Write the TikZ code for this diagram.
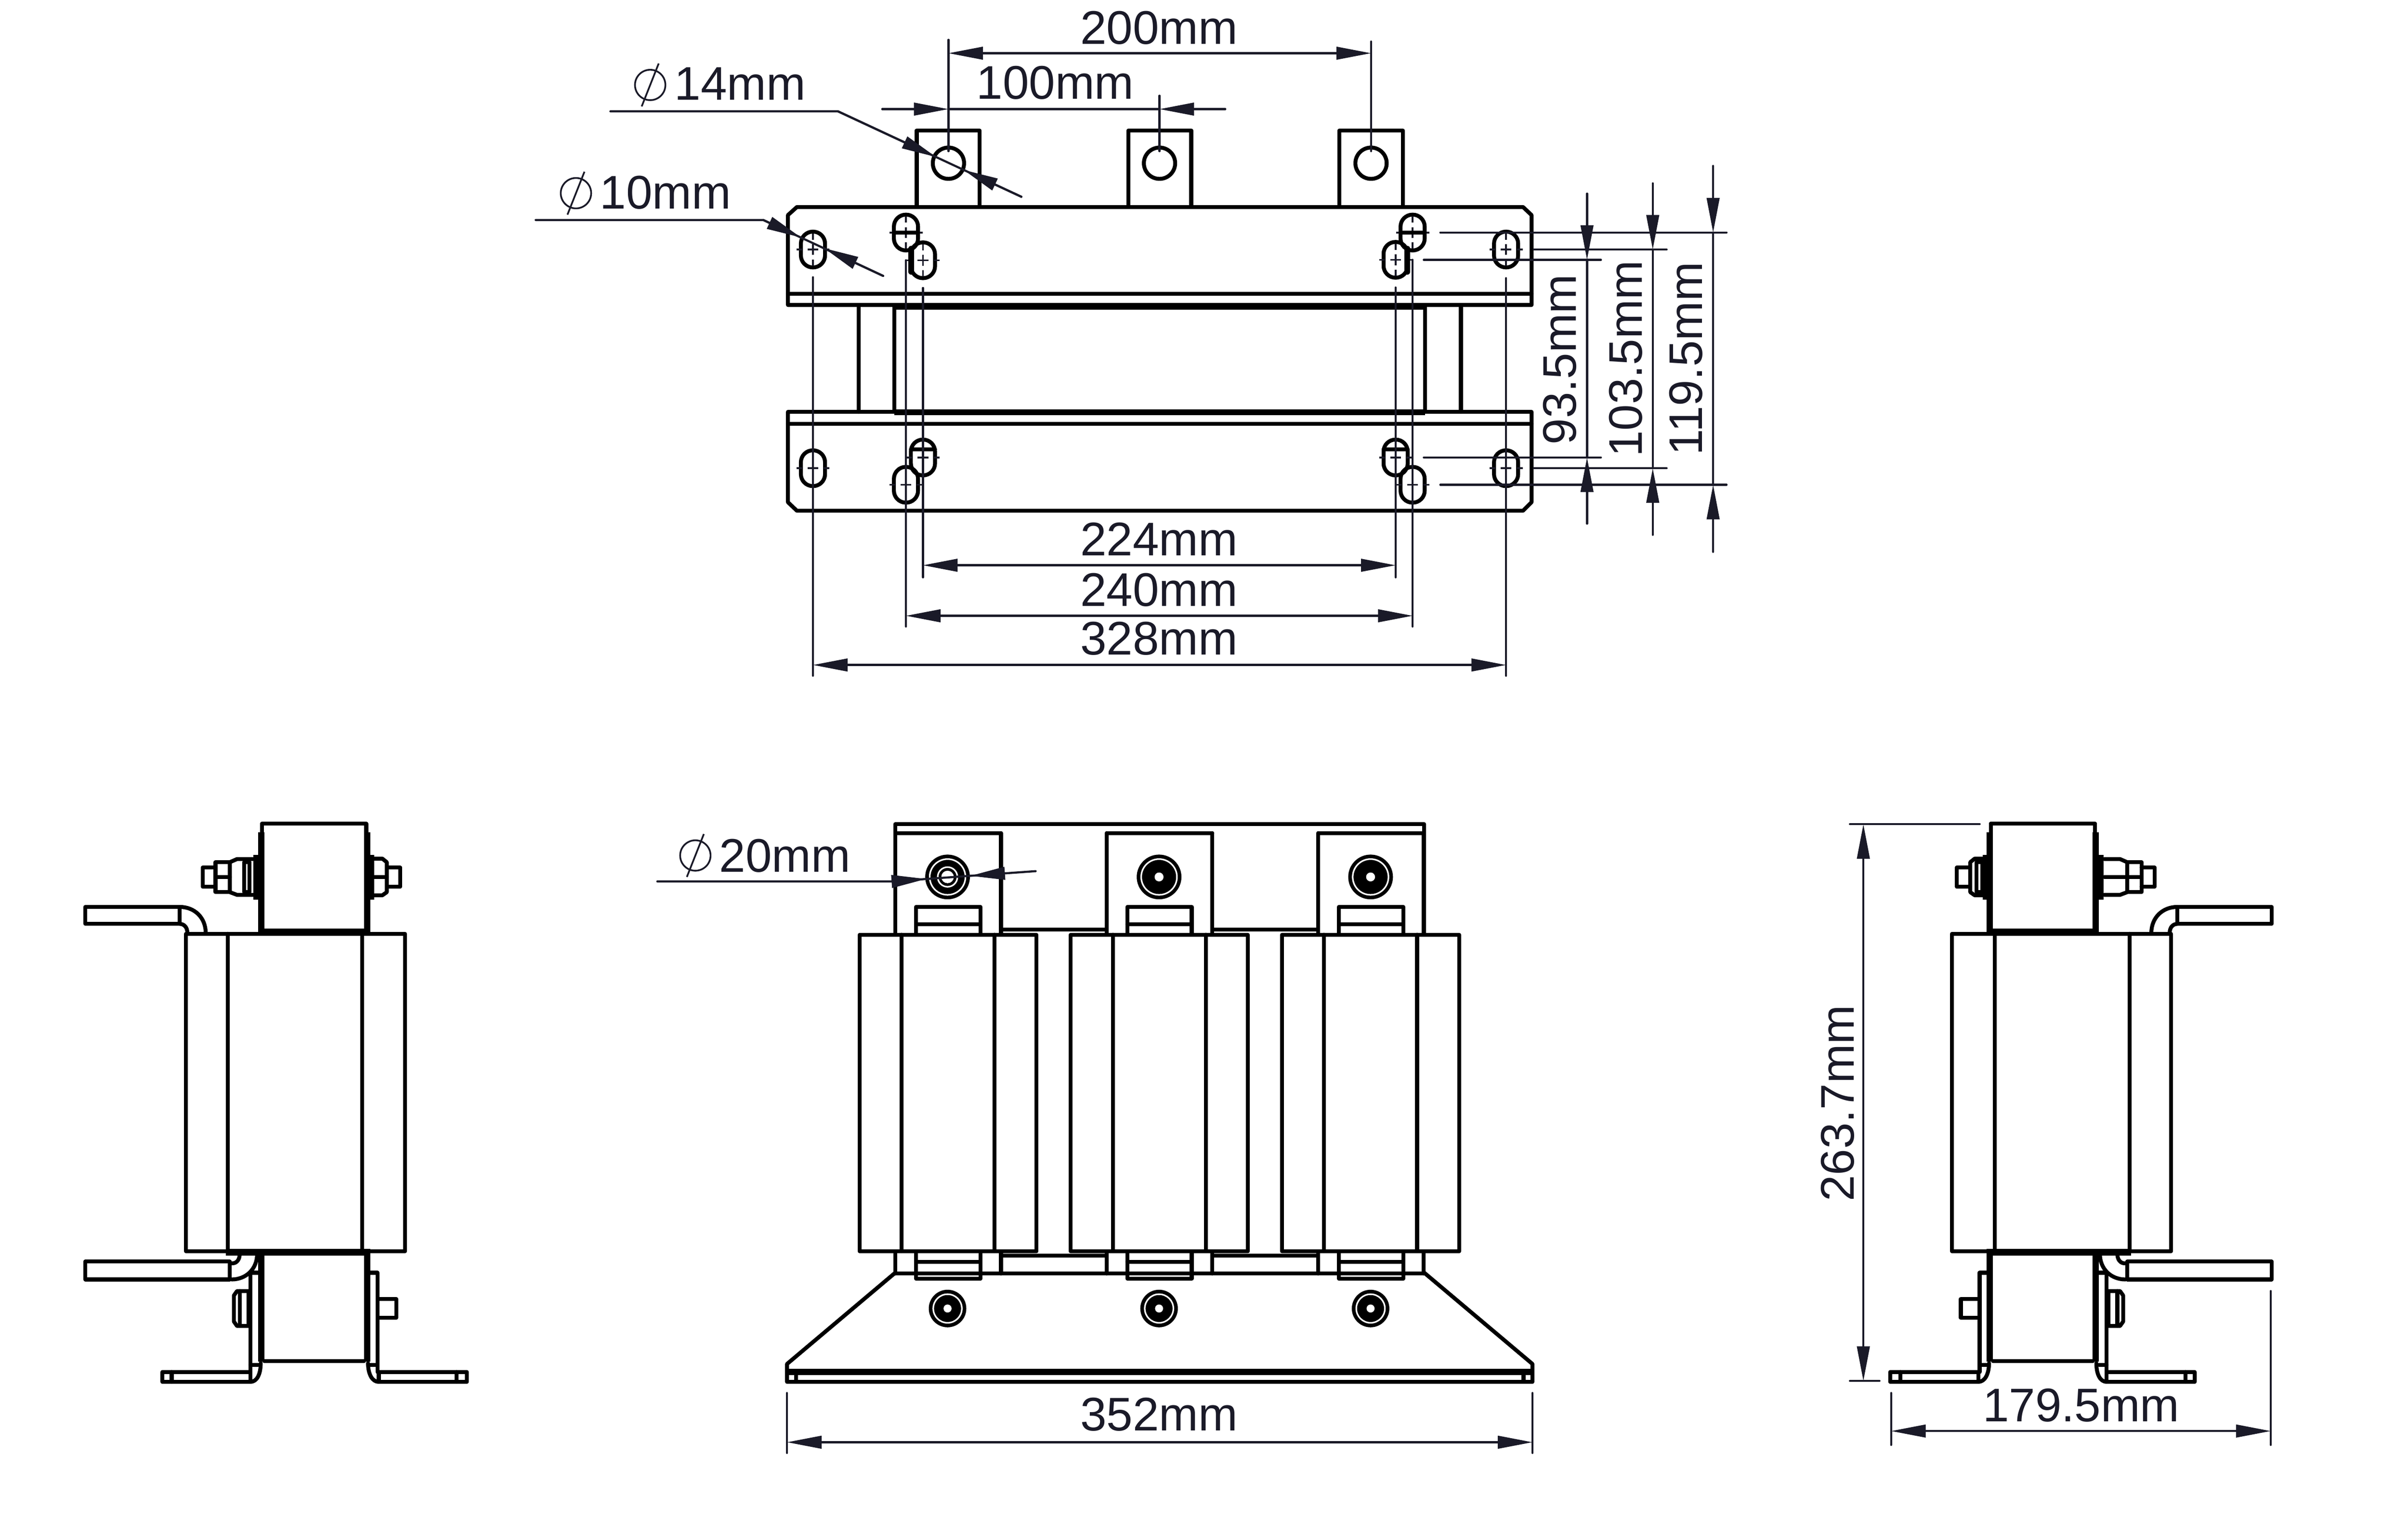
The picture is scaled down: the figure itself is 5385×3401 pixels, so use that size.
\documentclass[tikz,border=0pt]{standalone}
\usepackage{fontspec}
\setmainfont{Liberation Sans}
\usetikzlibrary{arrows.meta}
\definecolor{dimc}{HTML}{1A1A28}
\tikzset{
  main/.style={draw=black,line width=2.5pt,line join=round,line cap=round},
  heavy/.style={draw=black,line width=3.6pt,line cap=round},
  dimline/.style={draw=dimc,line width=1.35pt,line cap=round},
  cl/.style={draw=dimc,line width=1.1pt},
  tri/.tip={Triangle[length=22pt,width=8pt,color=dimc]},
  dimtext/.style={font=\fontsize{30}{30}\selectfont,inner sep=0pt,text=dimc},
}
\newcommand\slot[2]{%
  \draw[main,rounded corners=7.6pt] ({#1-27},{#2-40}) rectangle ({#1+27},{#2+40});
  \draw[cl] ({#1-37},#2)--({#1-24},#2) ({#1-12},#2)--({#1+12},#2) ({#1+24},#2)--({#1+37},#2)
     (#1,{#2-12})--(#1,{#2+12}) (#1,{#2-36})--(#1,{#2-22}) (#1,{#2+22})--(#1,{#2+36});
}
\newcommand\phisym[2]{% centre
  \draw[dimc,line width=1.1pt] (#1,#2) circle [radius=34];
  \draw[dimc,line width=1.1pt] ({#1+19},{#2-48})--({#1-19},{#2+48});
}
\newcommand\bigbolt[2]{%
  \fill[black] (#1,#2) circle [radius=50];
  \draw[white,line width=1pt] (#1,#2) circle [radius=40];
  \fill[white] (#1,#2) circle [radius=10];
}
\newcommand\lowbolt[2]{%
  \fill[black] (#1,#2) circle [radius=42];
  \draw[white,line width=1pt] (#1,#2) circle [radius=32];
  \fill[white] (#1,#2) circle [radius=9];
}
\newcommand\sidecommon{%
  % body
  \draw[main] (416,2088) rectangle (906,2798);
  \draw[main] (509,2088)--(509,2798) (810,2088)--(810,2798);
  % top box
  \draw[main] (586,1842)--(819,1842);
  \fill[black] (577,1861) rectangle (591,2088);
  \fill[black] (814,1861) rectangle (828,2088);
  \draw[main] (586,1842)--(586,1870) (819,1842)--(819,1870);
  \fill[black] (586,2076) rectangle (819,2088);
  \fill[black] (567,1912) rectangle (578,2012);
  \fill[black] (827,1912) rectangle (837,2012);
  % long bolt
  \draw[main] (565,1921)--(530,1921)--(514,1928)--(514,1995)--(530,2001)--(565,2001);
  \draw[main] (514,1928)--(482,1928)--(482,1995)--(514,1995);
  \draw[main] (482,1940)--(453,1940)--(453,1983)--(482,1983);
  % short bolt
  \draw[main] (835,1920)--(855,1920)--(865,1928)--(865,1995)--(855,2002)--(835,2002);
  \draw[main] (865,1940)--(895,1940)--(895,1983)--(865,1983);
  % upper arm
  \draw[main] (402,2028)--(191,2028)--(191,2066)--(402,2066)--cycle;
  \draw[main] (402,2028) .. controls (435,2028) and (460,2052) .. (460,2086);
  \draw[main] (402,2066) .. controls (412,2066) and (419,2074) .. (419,2086);
  % lower box
  \fill[black] (577,2800) rectangle (591,3045);
  \fill[black] (814,2800) rectangle (828,3045);
  \fill[black] (505,2793) rectangle (828,2808);
  \draw[main] (591,3044)--(814,3044);
  % lower arm
  \draw[main] (514,2821)--(191,2821)--(191,2861)--(514,2861)--cycle;
  \draw[main] (518,2861) .. controls (550,2861) and (575,2838) .. (575,2804);
  \draw[main] (519,2825) .. controls (530,2825) and (536,2816) .. (536,2804);
  % brackets
  \draw[main] (577,2846)--(560,2846)--(560,3068);
  \draw[main] (828,2846)--(844,2846)--(844,3068);
  \draw[main] (560,3052)--(577,3052) (828,3052)--(844,3052);
  % feet
  \draw[main] (560,3068)--(363,3068)--(363,3090)--(560,3090) .. controls (575,3090) and (583,3072) .. (583,3048);
  \draw[main] (384,3068)--(384,3090) (560,3068)--(560,3090);
  \draw[main] (847,3068)--(1044,3068)--(1044,3090)--(847,3090) .. controls (832,3090) and (823,3072) .. (823,3048);
  \draw[main] (1021,3068)--(1021,3090) (847,3068)--(847,3090);
  % lower nuts
  \draw[main] (556,2887)--(530,2887)--(523,2897)--(523,2955)--(530,2965)--(556,2965)--cycle;
  \draw[main] (536,2887)--(536,2965);
  \draw[main] (846,2905)--(886,2905)--(886,2947)--(846,2947);
}
\begin{document}
\begin{tikzpicture}[x=0.01cm,y=-0.01cm]
\useasboundingbox (0,0) rectangle (5385,3401);
\fill[white] (0,0) rectangle (5385,3401);
%% ---------- plan view ----------
\draw[main] (2050,463)--(2050,292)--(2191,292)--(2191,463);
\draw[main] (2523,463)--(2523,292)--(2664,292)--(2664,463);
\draw[main] (2995,463)--(2995,292)--(3137,292)--(3137,463);
\foreach \c in {2121,2593,3066} \draw[main] (\c,365) circle [radius=35];
\draw[main] (1782,463)--(3406,463)--(3425,481)--(3425,682)--(1762,682)--(1762,481)--cycle;
\draw[main] (1762,657)--(3425,657);
\draw[main] (1920,682)--(1920,921) (3267,682)--(3267,921);
\draw[main] (2000,682)--(2000,921) (3187,682)--(3187,921);
\fill[black] (2000,679) rectangle (3187,692);
\fill[black] (2000,915) rectangle (3187,928);
\draw[main] (1782,1142)--(3406,1142)--(3425,1123)--(3425,921)--(1762,921)--(1762,1123)--cycle;
\draw[main] (1762,948)--(3425,948);
\slot{1818}{558}\slot{2026}{520}\slot{2064}{582}
\slot{3121}{581}\slot{3159}{520}\slot{3368}{558}
\slot{2064}{1023}\slot{2026}{1084}\slot{1818}{1047}
\slot{3121}{1023}\slot{3159}{1084}\slot{3368}{1047}
\draw[main] (1999,520)--(2053,520) (3132,520)--(3186,520) (2037,1005)--(2091,1005) (3094,1005)--(3148,1005);
\draw[heavy] (2038,556)--(2038,608) (3147,556)--(3147,608);
%% extension lines
\draw[dimline] (2121,89)--(2121,338) (2593,214)--(2593,338) (3066,93)--(3066,338);
\draw[dimline] (1818,620)--(1818,1511) (2026,582)--(2026,1401) (2064,644)--(2064,1291);
\draw[dimline] (3121,643)--(3121,1291) (3159,581)--(3159,1401) (3368,622)--(3368,1511);
\draw[dimline] (3221,520)--(3861,520) (3430,558)--(3727,558) (3184,581)--(3580,581);
\draw[dimline] (3184,1023)--(3580,1023) (3430,1047)--(3727,1047) (3221,1084)--(3861,1084);
%% dimension lines
\draw[dimline,tri-tri] (2121,119)--(3066,119);
\node[dimtext] (d200) at (2592,62) {200mm};
\draw[dimline,-tri] (1973,244)--(2121,244);
\draw[dimline,-tri] (2740,244)--(2593,244);
\draw[dimline] (2121,244)--(2593,244);
\node[dimtext] (d100) at (2360,185) {100mm};
\draw[dimline,tri-tri] (2064,1264)--(3121,1264);
\node[dimtext] (d224) at (2592,1205) {224mm};
\draw[dimline,tri-tri] (2026,1377)--(3159,1377);
\node[dimtext] (d240) at (2592,1319) {240mm};
\draw[dimline,tri-tri] (1818,1487)--(3368,1487);
\node[dimtext] (d328) at (2592,1428) {328mm};
%% right-hand dimensions
\draw[dimline,-tri] (3549,433)--(3549,581);
\draw[dimline,-tri] (3549,1171)--(3549,1023);
\draw[dimline] (3549,581)--(3549,1023);
\node[dimtext,rotate=90] (d935) at (3488,804) {93.5mm};
\draw[dimline,-tri] (3696,410)--(3696,558);
\draw[dimline,-tri] (3696,1196)--(3696,1047);
\draw[dimline] (3696,558)--(3696,1047);
\node[dimtext,rotate=90] (d1035) at (3636,802) {103.5mm};
\draw[dimline,-tri] (3831,371)--(3831,520);
\draw[dimline,-tri] (3831,1234)--(3831,1084);
\draw[dimline] (3831,520)--(3831,1084);
\node[dimtext,rotate=90] (d1195) at (3770,802) {119.5mm};
%% diameters
\draw[dimline] (1365,249)--(1874,249)--(2284,440);
\draw[dimline,-tri] (1874,249)--(2093,351);
\draw[dimline,-tri] (2284,440)--(2155,380);
\phisym{1454}{190}
\node[dimtext,anchor=base west] (d14) at (1508,224) {14mm};
\draw[dimline] (1198,492)--(1707,492)--(1975,617);
\draw[dimline,-tri] (1707,492)--(1791,531);
\draw[dimline,-tri] (1975,617)--(1843,555);
\phisym{1288}{432}
\node[dimtext,anchor=base west] (d10) at (1341,467) {10mm};
%% ---------- front view ----------
\draw[main] (2002,2087)--(2002,1843)--(3185,1843)--(3185,2087);
\draw[main] (2239,2079)--(2474,2079) (2711,2079)--(2947,2079);
\foreach \c in {2120.5,2593,3066} {
  \draw[main] ({\c-118},1863)--({\c+118},1863);
  \draw[main] ({\c-118},1863)--({\c-118},2087) ({\c+118},1863)--({\c+118},2087);
  \draw[main] ({\c-72},2087)--({\c-72},2028)--({\c+72},2028)--({\c+72},2087);
  \draw[main] ({\c-72},2067)--({\c+72},2067);
  \draw[main] ({\c-118},2803)--({\c-118},2848) ({\c+118},2803)--({\c+118},2848);
  \draw[main] ({\c-72},2803)--({\c-72},2859)--({\c+72},2859)--({\c+72},2803);
  \draw[main] ({\c-72},2822)--({\c+72},2822);
}
\foreach \c in {2120,2592.5,3065} {
  \draw[main] ({\c-198},2090) rectangle ({\c+198},2798);
  \draw[main] ({\c-104},2090)--({\c-104},2798) ({\c+104},2090)--({\c+104},2798);
}
\draw[main] (2239,2808)--(2474,2808) (2711,2808)--(2947,2808);
\draw[main] (2002,2848)--(3185,2848);
\draw[main] (2002,2846)--(1760,3050)--(1760,3090)--(3427,3090)--(3427,3050)--(3185,2846);
\fill[black] (1760,3061) rectangle (3427,3075);
\draw[main] (1780,3075)--(1780,3087) (3407,3075)--(3407,3087);
\bigbolt{2119}{1961}\bigbolt{2592}{1961}\bigbolt{3065}{1961}
\draw[white,line width=1pt] (2119,1961) circle [radius=22];
\fill[white] (2119,1961) circle [radius=14];
\lowbolt{2119}{2926}\lowbolt{2592}{2926}\lowbolt{3065}{2926}
\draw[dimline] (1470,1971)--(1995,1971)--(2316,1948);
\draw[dimline,-tri] (1995,1971)--(2071,1965.5);
\draw[dimline,-tri] (2245,1953)--(2170,1958.5);
\phisym{1555}{1913}
\node[dimtext,anchor=base west] (d20) at (1608,1950) {20mm};
\draw[dimline] (1760,3115)--(1760,3249) (3427,3115)--(3427,3249);
\draw[dimline,tri-tri] (1760,3225)--(3427,3225);
\node[dimtext] (d352) at (2592,3163) {352mm};
%% ---------- left view ----------
\sidecommon
\draw[main] (546,1928) rectangle (558,1995);
\draw[main] (482,1961)--(514,1961) (835,1961)--(865,1961);
%% ---------- right view ----------
\begin{scope}[shift={(5271,0)},xscale=-1]
\sidecommon
\draw[main] (482,1961)--(565,1961);
\draw[main] (838,1928) rectangle (851,1995);
\end{scope}
\draw[dimline] (4137,1843)--(4427,1843) (4137,3088)--(4203,3088);
\draw[dimline,tri-tri] (4167,1843)--(4167,3088);
\node[dimtext,rotate=90] (d2637) at (4110,2467) {263.7mm};
\draw[dimline] (4229,3115)--(4229,3231) (5078,2887)--(5078,3231);
\draw[dimline,tri-tri] (4229,3200)--(5078,3200);
\node[dimtext] (d1795) at (4654,3142) {179.5mm};
\end{tikzpicture}
\end{document}
